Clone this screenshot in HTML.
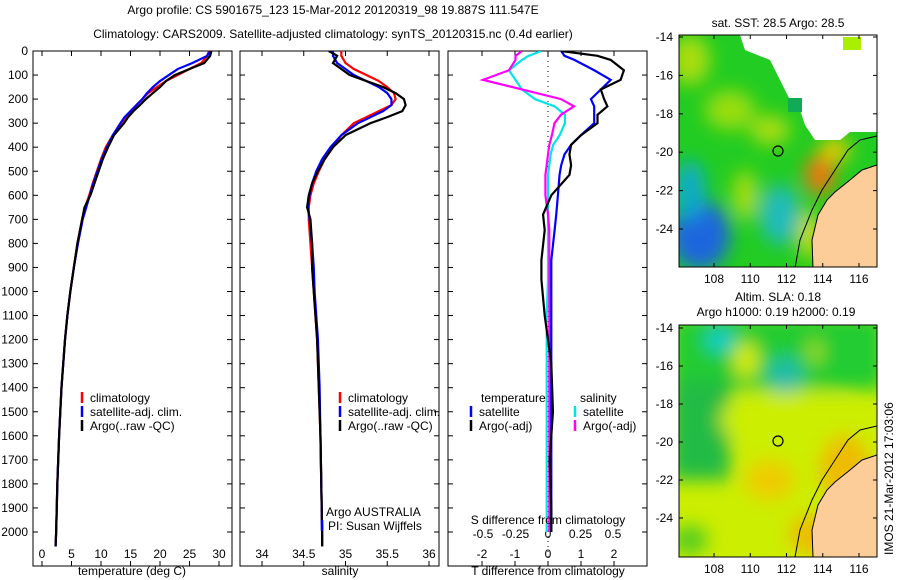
<!DOCTYPE html>
<html><head><meta charset="utf-8"><style>
body{margin:0;background:#fff;}
svg{display:block;font-family:"Liberation Sans",sans-serif;}
text{font-size:12px;fill:#000;}
</style></head><body>
<svg id="fig" width="900" height="580" viewBox="0 0 900 580">
<defs>
<filter id="bl" x="-50%" y="-50%" width="200%" height="200%"><feGaussianBlur stdDeviation="9"/></filter>
<clipPath id="c1"><rect x="679" y="35" width="198" height="232"/></clipPath>
<clipPath id="c2"><rect x="679" y="325" width="198" height="232"/></clipPath>
<clipPath id="p1"><rect x="33" y="51" width="199" height="515"/></clipPath>
<clipPath id="p2"><rect x="240" y="51" width="199" height="515"/></clipPath>
<clipPath id="p3"><rect x="448" y="51" width="199" height="515"/></clipPath>
</defs>
<text x="333" y="14" text-anchor="middle">Argo profile: CS 5901675_123 15-Mar-2012 20120319_98 19.887S 111.547E</text>
<text x="333" y="38" text-anchor="middle">Climatology: CARS2009. Satellite-adjusted climatology: synTS_20120315.nc (0.4d earlier)</text>
<g id="g1"></g><g id="g2"></g><g id="g3"></g>
<g>
<g clip-path="url(#c1)">
<rect x="679" y="35" width="198" height="232" fill="#22cc22"/>
<g filter="url(#bl)">
<ellipse cx="690" cy="60" rx="20" ry="25" fill="#aadd11"/>
<ellipse cx="730" cy="110" rx="25" ry="20" fill="#99dd11"/>
<ellipse cx="770" cy="130" rx="20" ry="15" fill="#aadd11"/>
<ellipse cx="745" cy="195" rx="12" ry="25" fill="#aadd11"/>
<ellipse cx="700" cy="235" rx="30" ry="35" fill="#1a66dd"/>
<ellipse cx="690" cy="190" rx="15" ry="30" fill="#11aacc"/>
<ellipse cx="780" cy="215" rx="20" ry="30" fill="#22bbbb"/>
<ellipse cx="820" cy="175" rx="15" ry="20" fill="#ee7711"/>
<ellipse cx="835" cy="150" rx="15" ry="12" fill="#eecc00"/>
<ellipse cx="810" cy="235" rx="10" ry="25" fill="#dddd00"/>
</g>
<path d="M740 35 L877 35 L877 132 L850 132 L840 140 L815 140 L805 125 L800 110 L790 100 L780 80 L770 60 L745 50 Z" fill="#fff"/>
<rect x="843" y="37" width="18" height="13" fill="#aaee00"/>
<rect x="788" y="98" width="14" height="14" fill="#11aa55"/>
<path d="M877 165 L862 170 L850 180 L835 192 L827 200 L818 215 L812 240 L813 268 L877 268 Z" fill="#fccc99" stroke="#000" stroke-width="1"/>
<path d="M877 136 L860 140 L848 150 L835 170 L822 190 L812 210 L800 240 L795 268" fill="none" stroke="#000" stroke-width="1"/>
<circle cx="778" cy="151" r="5" fill="none" stroke="#000" stroke-width="1.2"/>
</g>
<rect x="679" y="35" width="198" height="232" fill="none" stroke="#000"/>
<text x="778" y="27" text-anchor="middle">sat. SST: 28.5  Argo: 28.5</text>
</g>
<g>
<g clip-path="url(#c2)">
<rect x="679" y="325" width="198" height="232" fill="#ccee00"/>
<g filter="url(#bl)">
<rect x="670" y="315" width="215" height="75" fill="#22cc33"/>
<rect x="670" y="380" width="60" height="100" fill="#22bb44"/>
<ellipse cx="790" cy="420" rx="70" ry="30" fill="#ccee00"/>
<ellipse cx="720" cy="340" rx="15" ry="12" fill="#11cccc"/>
<ellipse cx="785" cy="375" rx="18" ry="18" fill="#22bbaa"/>
<ellipse cx="746" cy="360" rx="12" ry="18" fill="#ddee00"/>
<ellipse cx="815" cy="352" rx="7" ry="12" fill="#aadd22"/>
<ellipse cx="770" cy="480" rx="25" ry="20" fill="#eecc00"/>
<ellipse cx="810" cy="535" rx="20" ry="20" fill="#eebb00"/>
<ellipse cx="690" cy="540" rx="18" ry="15" fill="#55cc22"/>
<ellipse cx="845" cy="470" rx="25" ry="35" fill="#eebb00"/>
</g>
<path d="M877 455 L862 460 L850 470 L835 482 L827 490 L818 505 L812 530 L813 557 L877 557 Z" fill="#fccc99" stroke="#000" stroke-width="1"/>
<path d="M877 426 L860 430 L848 440 L835 460 L822 480 L812 500 L800 530 L795 557" fill="none" stroke="#000" stroke-width="1"/>
<circle cx="778" cy="441" r="5" fill="none" stroke="#000" stroke-width="1.2"/>
</g>
<rect x="679" y="325" width="198" height="232" fill="none" stroke="#000"/>
<text x="778" y="301" text-anchor="middle">Altim. SLA: 0.18</text>
<text x="776" y="316" text-anchor="middle">Argo h1000: 0.19 h2000: 0.19</text>
</g>
<g id="mapaxes"></g>
<text transform="translate(893,555) rotate(-90)">IMOS 21-Mar-2012 17:03:06</text>
</svg>
<script>
const depths=[0,20,50,75,100,125,150,175,200,225,250,275,300,350,400,450,500,550,600,650,700,800,900,1000,1100,1200,1400,1600,1800,2000,2060];
const tClim=[28.3,28,27,25,23,21,19.5,18,17,16,15,14.2,13.4,12,10.8,10,9.3,8.6,8,7.3,6.8,6,5.4,4.8,4.3,3.9,3.3,2.9,2.6,2.4,2.3];
const tSat=[28.5,28,25.5,23,21.5,20,18.8,17.8,17,16,15,14,13.3,12,11,10.1,9.4,8.7,8.1,7.5,6.9,6.1,5.4,4.8,4.3,3.9,3.3,2.9,2.6,2.4,2.3];
const tArgo=[28.7,28.5,27.5,25,22.5,21,20,18.8,17.6,16.6,15.5,14.6,13.9,12.2,11.2,10.3,9.6,8.9,8.2,7.2,6.8,6,5.4,4.8,4.3,3.9,3.3,2.9,2.6,2.4,2.3];
const sClim=[34.95,34.95,35.0,35.1,35.25,35.4,35.5,35.58,35.6,35.55,35.4,35.25,35.1,34.95,34.85,34.75,34.68,34.62,34.58,34.56,34.56,34.58,34.6,34.62,34.64,34.66,34.68,34.7,34.71,34.72,34.72];
const sSat=[34.85,34.85,34.9,35.0,35.1,35.25,35.4,35.5,35.55,35.55,35.45,35.3,35.15,34.95,34.82,34.72,34.65,34.6,34.57,34.55,34.57,34.6,34.62,34.63,34.65,34.67,34.69,34.7,34.71,34.72,34.72];
const sArgo=[34.8,34.9,34.85,34.95,35.05,35.25,35.45,35.6,35.7,35.72,35.68,35.5,35.3,35.0,34.85,34.75,34.67,34.6,34.56,34.54,34.58,34.6,34.6,34.62,34.64,34.66,34.68,34.7,34.71,34.72,34.72];
const dDepths=[0,20,37,80,120,160,200,230,265,300,350,390,430,475,515,600,680,745,870,950,1100,1300,1500,1700,1900,2000];
const dtSat=[0.4,0.5,0.8,1.4,1.9,1.6,1.3,1.4,1.4,1.4,1.0,0.7,0.5,0.4,0.35,0.3,0.25,0.2,0.1,0.1,0.1,0.1,0.1,0.1,0.1,0.1];
const dtArgo=[0.4,1.5,1.9,2.3,2.2,1.6,1.7,1.8,1.5,1.5,1.0,0.7,0.65,0.7,0.65,0.1,-0.15,-0.1,-0.2,-0.2,-0.1,0.1,0.15,0.05,0.1,0.1];
const dsSat=[-0.05,-0.15,-0.2,-0.3,-0.25,-0.2,-0.1,0.05,0.13,0.13,0.09,0.04,0.02,0.01,0.0,0.0,0.0,0.0,0.0,0.0,-0.01,-0.01,-0.01,-0.01,-0.01,-0.01];
const dsMag=[-0.2,-0.25,-0.25,-0.3,-0.5,-0.2,0.1,0.2,0.1,0.05,0.03,0.01,0.0,-0.01,-0.02,-0.02,0.0,0.01,0.01,0.01,0.01,0.01,0.01,0.01,0.01,0.01];
const tTicks=[0,5,10,15,20,25,30];
const sTicks=[34,34.5,35,35.5,36];
const tdTicks=[-2,-1,0,1,2];
const sdTicks=[-0.5,-0.25,0,0.25,0.5];
const depthTicks=[0,100,200,300,400,500,600,700,800,900,1000,1100,1200,1300,1400,1500,1600,1700,1800,1900,2000];
const lonTicks=[108,110,112,114,116];
const latTicks=[-14,-16,-18,-20,-22,-24];

const NS='http://www.w3.org/2000/svg';
function mk(tag,attrs,parent){const e=document.createElementNS(NS,tag);for(const k in attrs)e.setAttribute(k,attrs[k]);parent.appendChild(e);return e;}
const Y0=51,Y1=566;
const yD=d=>Y0+d*0.2405;
function lin(d0,d1,r0,r1){return v=>r0+(v-d0)*(r1-r0)/(d1-d0);}
function frame(g,x0,x1,name){
  const r=mk('rect',{x:x0,y:Y0,width:x1-x0,height:Y1-Y0,fill:'none',stroke:'#000'},g);
  
  
  depthTicks.forEach(d=>{mk('line',{x1:x0,x2:x0+5,y1:yD(d),y2:yD(d),stroke:'#000'},g);mk('line',{x1:x1,x2:x1-5,y1:yD(d),y2:yD(d),stroke:'#000'},g);});
}
function xticks(g,ticks,xf,y,labels){
  ticks.forEach(t=>{const x=xf(t);mk('line',{x1:x,x2:x,y1:Y1,y2:Y1-5,stroke:'#000'},g);mk('line',{x1:x,x2:x,y1:Y0,y2:Y0+5,stroke:'#000'},g);
   if(labels){const tx=mk('text',{x:x,y:y,'text-anchor':'middle'},g);tx.textContent=String(t);
   
   }});
}
function line(g,xs,ds,xf,col,name,clip){
  const p=mk('polyline',{points:xs.map((v,i)=>xf(v)+','+yD(ds[i])).join(' '),fill:'none',stroke:col,'stroke-width':2.2,'clip-path':clip},g);
  
  
}
function label(g,x,y,txt,name,anchor){const t=mk('text',{x:x,y:y,'text-anchor':anchor||'start'},g);t.textContent=txt;
  
  }
function legend(g,x,y,col,txt){mk('line',{x1:x,x2:x,y1:y-10,y2:y+1,stroke:col,'stroke-width':2.5},g);label(g,x+8,y,txt,'legend-entry');}

const g1=document.getElementById('g1');


frame(g1,33,232,'temperature-panel');
depthTicks.forEach(d=>label(g1,28,yD(d)+4,String(d),'depth-tick-label','end'));
const xT=lin(0,30,42,219);
xticks(g1,tTicks,xT,558,true);
line(g1,tClim,depths,xT,'#ff0000','temp-climatology','url(#p1)');
line(g1,tSat,depths,xT,'#0000ff','temp-satellite','url(#p1)');
line(g1,tArgo,depths,xT,'#000000','temp-argo','url(#p1)');
label(g1,132,575,'temperature (deg C)','x-axis-title','middle');
legend(g1,82,402,'#ff0000','climatology');legend(g1,82,416,'#0000ff','satellite-adj. clim.');legend(g1,82,430,'#000000','Argo(..raw -QC)');

const g2=document.getElementById('g2');


frame(g2,240,439,'salinity-panel');
const xS=lin(34,36,262,429);
xticks(g2,sTicks,xS,558,true);
line(g2,sClim,depths,xS,'#ff0000','sal-climatology','url(#p2)');
line(g2,sSat,depths,xS,'#0000ff','sal-satellite','url(#p2)');
line(g2,sArgo,depths,xS,'#000000','sal-argo','url(#p2)');
label(g2,340,575,'salinity','x-axis-title','middle');
legend(g2,340,402,'#ff0000','climatology');legend(g2,340,416,'#0000ff','satellite-adj. clim.');legend(g2,340,430,'#000000','Argo(..raw -QC)');
label(g2,326,516,'Argo AUSTRALIA','agency-label');
mk('line',{x1:322,x2:322,y1:520,y2:531,stroke:'#0000ff','stroke-width':2.5},g2);
label(g2,328,530,'PI: Susan Wijffels','pi-label');

const g3=document.getElementById('g3');


frame(g3,448,647,'difference-panel');
const xTd=lin(-2,2,482,614);
const xSd=lin(-0.5,0.5,483,613);
xticks(g3,tdTicks,xTd,558,true);
sdTicks.forEach(t=>label(g3,xSd(t),538,String(t),'s-diff-tick-label','middle'));
mk('line',{x1:xTd(0),x2:xTd(0),y1:Y0,y2:Y1,stroke:'#000','stroke-dasharray':'1,4'},g3);
line(g3,dsSat,dDepths,xSd,'#00e5e5','sdiff-satellite','url(#p3)');
line(g3,dsMag,dDepths,xSd,'#ff00ff','sdiff-argo','url(#p3)');
line(g3,dtSat,dDepths,xTd,'#0000ff','tdiff-satellite','url(#p3)');
line(g3,dtArgo,dDepths,xTd,'#000000','tdiff-argo','url(#p3)');
label(g3,548,575,'T difference from climatology','x-axis-title','middle');
label(g3,548,524,'S difference from climatology','x-axis-title-2','middle');
label(g3,481,402,'temperature','legend-heading');label(g3,580,402,'salinity','legend-heading');
legend(g3,471,416,'#0000ff','satellite');legend(g3,471,430,'#000000','Argo(-adj)');
legend(g3,575,416,'#00e5e5','satellite');legend(g3,575,430,'#ff00ff','Argo(-adj)');

const ma=document.getElementById('mapaxes');
const xLon=lin(108,116,714,859);
[[35,267,lin(-14,-24,37,229)],[325,557,lin(-14,-24,328,518)]].forEach(([t,b,yl])=>{
  lonTicks.forEach(v=>{const x=xLon(v);mk('line',{x1:x,x2:x,y1:b,y2:b-4,stroke:'#000'},ma);mk('line',{x1:x,x2:x,y1:t,y2:t+4,stroke:'#000'},ma);
    label(ma,x,b+16,String(v),'lon-tick-label','middle');});
  latTicks.forEach(v=>{const y=yl(v);mk('line',{x1:679,x2:683,y1:y,y2:y,stroke:'#000'},ma);mk('line',{x1:877,x2:873,y1:y,y2:y,stroke:'#000'},ma);
    label(ma,673,y+4,String(v),'lat-tick-label','end');});
});
</script>
</body></html>
